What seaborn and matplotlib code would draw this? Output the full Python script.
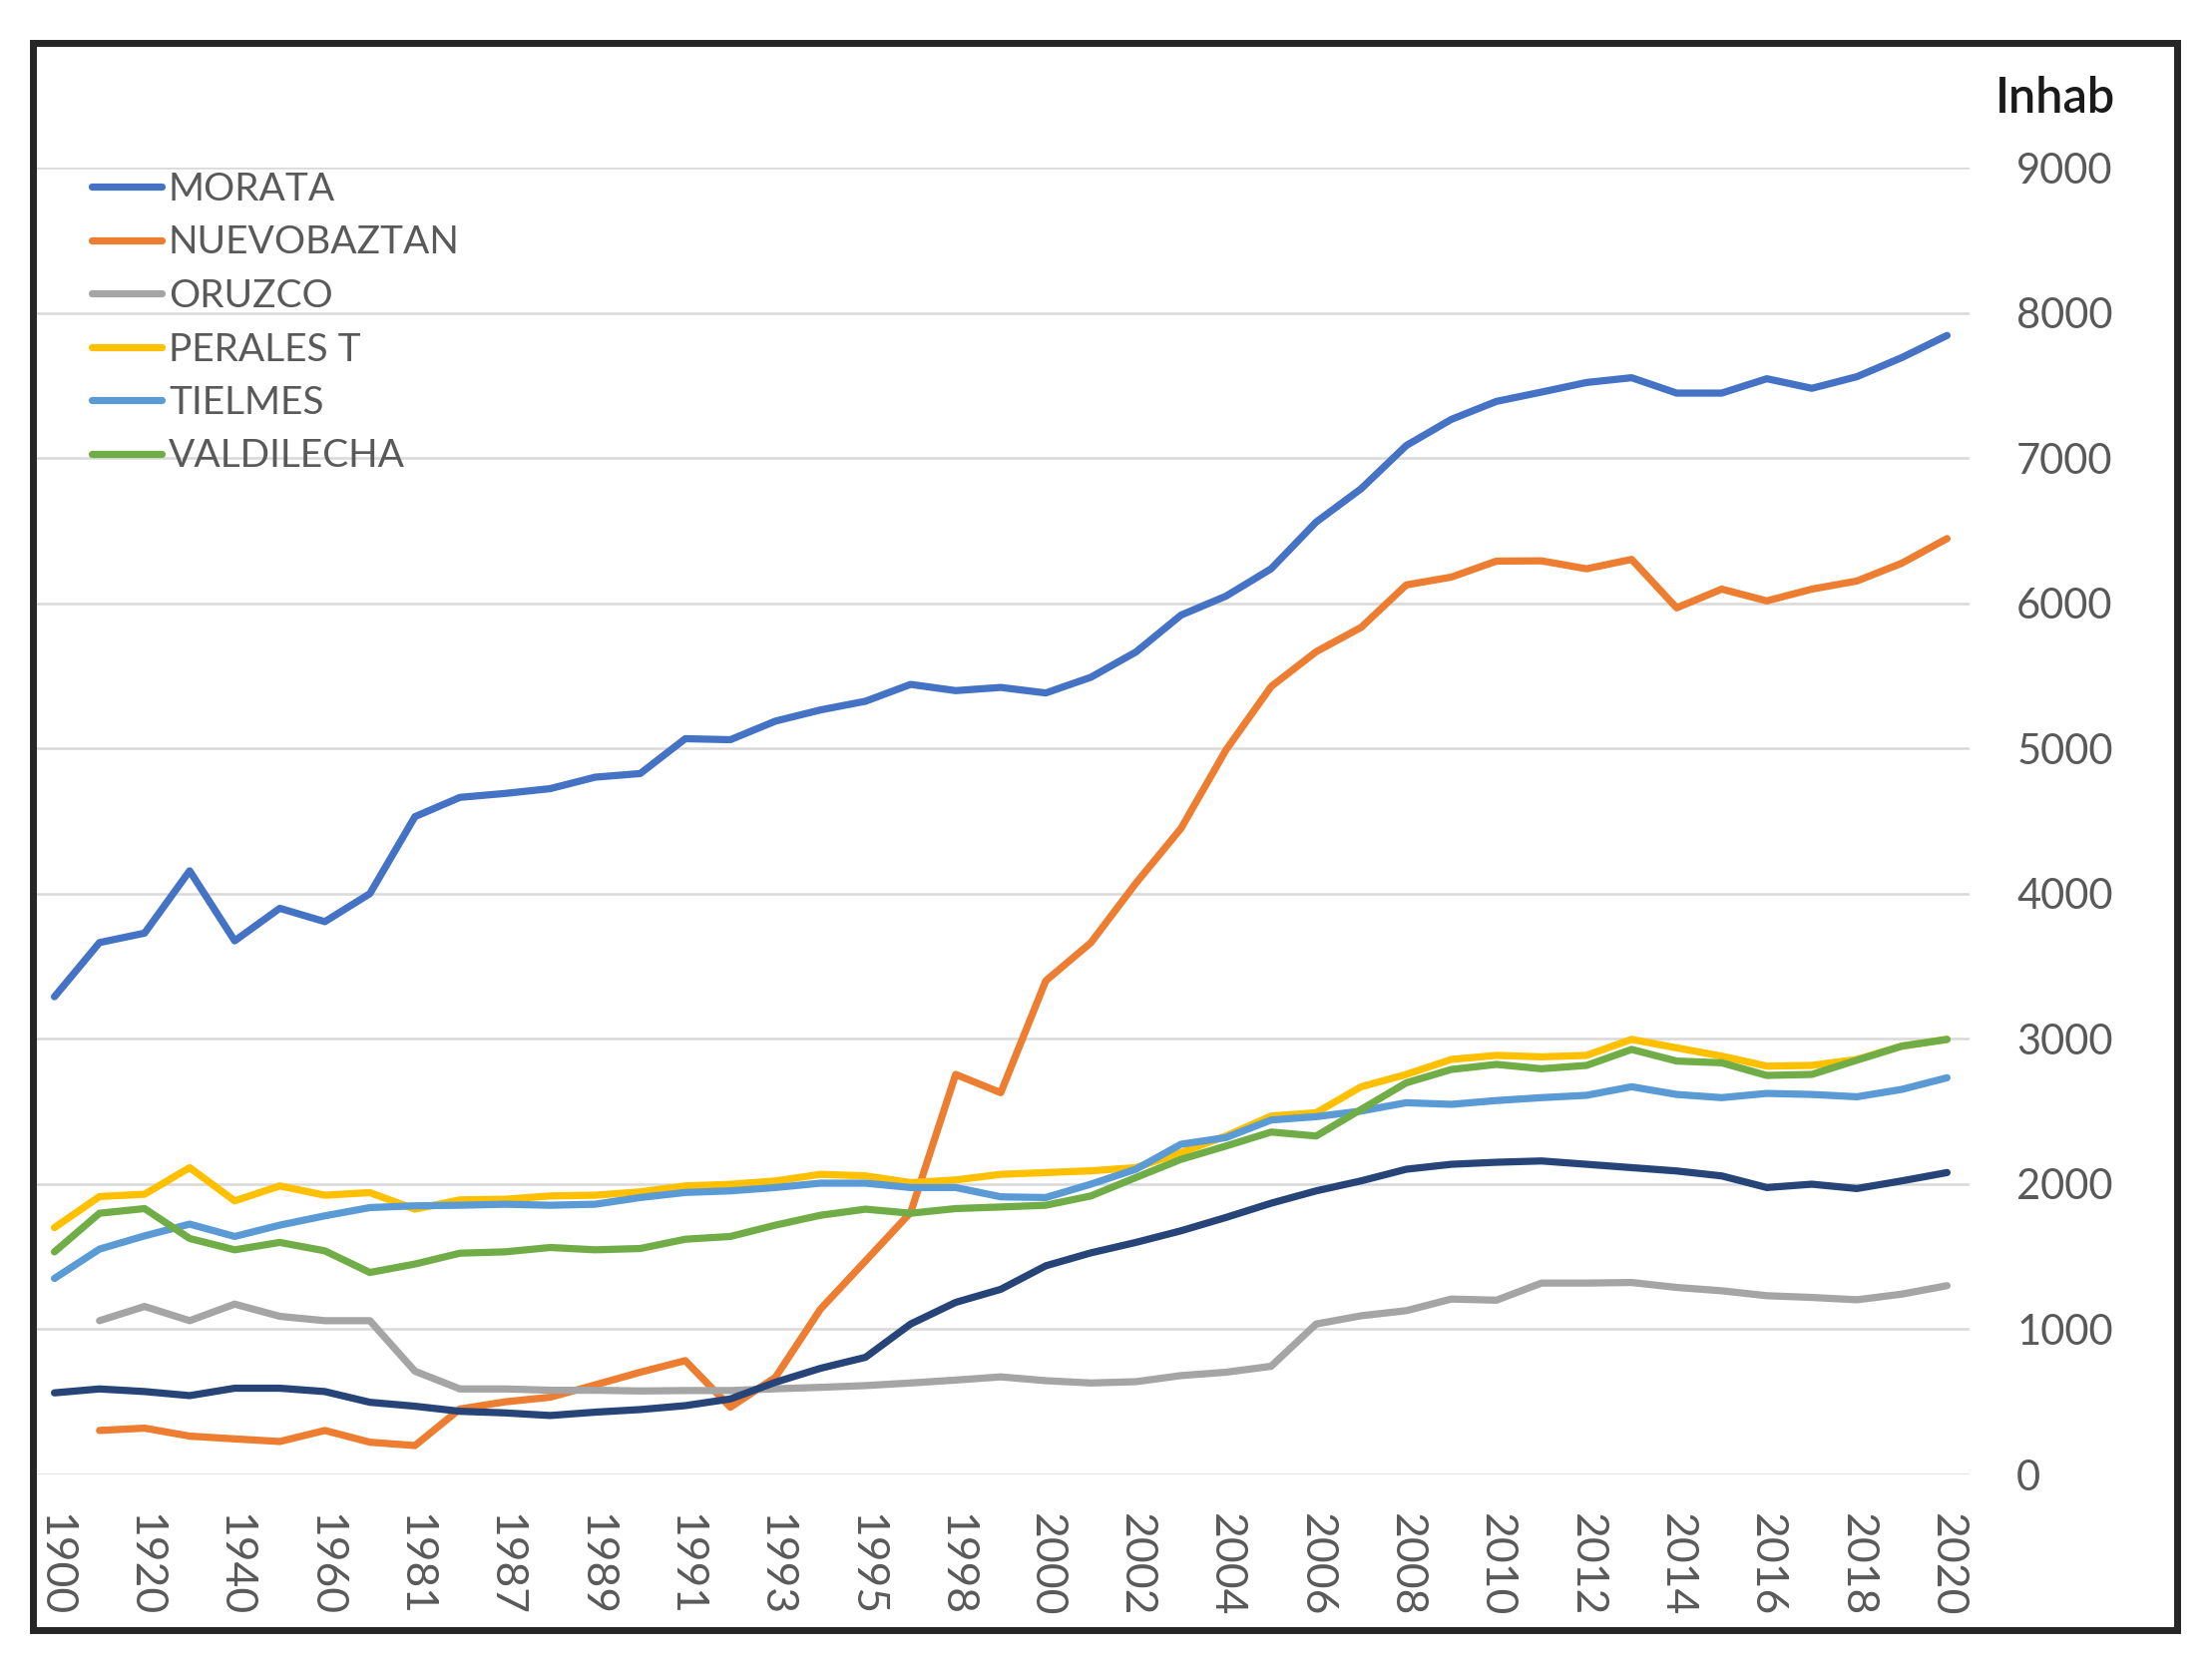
import numpy as np
import pandas as pd
import matplotlib
matplotlib.use("Agg")
import matplotlib.pyplot as plt
from matplotlib.patches import Rectangle
import seaborn as sns

# Categories (census / padron years)
years = ["1900", "1910", "1920", "1930", "1940", "1950", "1960", "1970", "1981", "1986",
         "1987", "1988", "1989", "1990", "1991", "1992", "1993", "1994", "1995", "1996",
         "1998", "1999", "2000", "2001", "2002", "2003", "2004", "2005", "2006", "2007",
         "2008", "2009", "2010", "2011", "2012", "2013", "2014", "2015", "2016", "2017",
         "2018", "2019", "2020"]

nan = np.nan

morata = [3290, 3663, 3728, 4157, 3675, 3899, 3807, 4000, 4530, 4663,
          4690, 4723, 4802, 4827, 5067, 5060, 5188, 5265, 5325, 5441,
          5398, 5420, 5382, 5490, 5664, 5918, 6049, 6237, 6559, 6789,
          7086, 7266, 7390, 7454, 7520, 7553, 7447, 7447, 7546, 7480,
          7560, 7692, 7844]

nuevobaztan = [nan, 303, 319, 264, 245, 227, 303, 222, 199, 451,
               500, 532, 617, 704, 784, 463, 669, 1139, 1471, 1804,
               2755, 2629, 3400, 3662, 4072, 4449, 4990, 5426, 5666, 5834,
               6126, 6180, 6290, 6292, 6237, 6302, 5968, 6097, 6016, 6097,
               6153, 6276, 6445]

oruzco = [nan, 1059, 1157, 1059, 1173, 1089, 1059, 1059, 711, 589,
          589, 580, 580, 575, 578, 578, 590, 600, 612, 630,
          650, 672, 646, 630, 639, 681, 704, 745, 1036, 1093,
          1128, 1208, 1200, 1318, 1318, 1322, 1288, 1265, 1231, 1219,
          1203, 1242, 1300]

perales = [1700, 1914, 1930, 2113, 1884, 1987, 1923, 1941, 1827, 1891,
           1895, 1918, 1923, 1946, 1987, 1998, 2021, 2067, 2056, 2010,
           2028, 2067, 2079, 2091, 2113, 2216, 2331, 2468, 2491, 2670,
           2755, 2858, 2886, 2876, 2886, 2996, 2938, 2881, 2812, 2817,
           2858, 2950, 2996]

tielmes = [1350, 1552, 1643, 1724, 1639, 1717, 1781, 1838, 1850, 1854,
           1861, 1854, 1861, 1907, 1942, 1953, 1976, 2006, 2006, 1976,
           1976, 1912, 1907, 1999, 2102, 2274, 2320, 2441, 2464, 2503,
           2560, 2549, 2575, 2595, 2611, 2670, 2617, 2595, 2624, 2617,
           2601, 2652, 2732]

valdilecha = [1533, 1799, 1831, 1625, 1547, 1598, 1540, 1391, 1449, 1524,
              1533, 1563, 1547, 1556, 1620, 1639, 1717, 1785, 1827, 1799,
              1831, 1842, 1854, 1918, 2045, 2170, 2262, 2358, 2331, 2514,
              2697, 2789, 2824, 2794, 2817, 2927, 2847, 2835, 2748, 2755,
              2853, 2950, 2996]

# seventh series (no legend entry in the original)
serie7 = [562, 589, 571, 543, 594, 594, 571, 497, 470, 435,
          424, 406, 429, 447, 474, 520, 635, 731, 807, 1036,
          1185, 1275, 1437, 1526, 1598, 1678, 1770, 1868, 1953, 2022,
          2102, 2136, 2150, 2159, 2136, 2113, 2090, 2056, 1976, 1999,
          1969, 2022, 2079]

series = [
    ("MORATA", morata, "#4472C4"),
    ("NUEVOBAZTAN", nuevobaztan, "#ED7D31"),
    ("ORUZCO", oruzco, "#A5A5A5"),
    ("PERALES T", perales, "#FFC000"),
    ("TIELMES", tielmes, "#5B9BD5"),
    ("VALDILECHA", valdilecha, "#70AD47"),
    ("_serie7", serie7, "#264478"),
]

sns.set_style("white")
plt.rcParams['font.family'] = ['Lato', 'DejaVu Sans']

W, H = 2217, 1669
fig = plt.figure(figsize=(W / 100, H / 100), dpi=100)
ax = fig.add_axes([32 / W, 1 - 1478 / H, (1974 - 32) / W, (1478 - 168) / H])

pos = np.arange(len(years))
handles = []
for name, vals, color in series:
    df = pd.DataFrame({"pos": pos, "inhab": vals}).dropna()
    sns.lineplot(data=df, x="pos", y="inhab", ax=ax, color=color, linewidth=5.2,
                 solid_joinstyle="round", solid_capstyle="round")
    line = ax.get_lines()[-1]
    if not name.startswith("_"):
        line.set_label(name)
        handles.append(line)

ax.set_xlim(-0.5, len(years) - 0.5)
ax.set_ylim(0, 9000)
ax.set_yticks(range(0, 9001, 1000))
ax.yaxis.tick_right()
ax.set_xticks(pos[::2])
ax.set_xticklabels(years[::2], rotation=270)
ax.tick_params(axis="y", length=0, pad=34, labelsize=30, labelcolor="#595959")
ax.tick_params(axis="x", length=0, pad=28, labelsize=32, labelcolor="#595959")
for lab in ax.get_yticklabels():
    lab.set_horizontalalignment("left")
ax.set_xlabel("")
ax.set_ylabel("")
ax.grid(axis="y", color="#D9D9D9", linewidth=1.8)
ax.grid(axis="x", visible=False)
for s in ax.spines.values():
    s.set_visible(False)

leg = ax.legend(handles=handles, loc="upper left", bbox_to_anchor=(92 / W, 1 - 172 / H),
                bbox_transform=fig.transFigure, frameon=False, fontsize=28,
                handlelength=1.8, handletextpad=0.18, labelspacing=0.45,
                borderpad=0, borderaxespad=0)
for t in leg.get_texts():
    t.set_color("#595959")

fig.text(2000 / W, 1 - 99 / H, "Inhab", fontsize=35, color="#1a1a1a",
         fontweight="semibold", ha="left", va="center")

# outer chart border
fig.patches.append(Rectangle((33 / W, 1 - 1634 / H), (2182 - 33) / W, (1634 - 43) / H,
                             transform=fig.transFigure, fill=False,
                             edgecolor="#262626", linewidth=5))

fig.savefig("out.png", dpi=100)
plt.close("all")
